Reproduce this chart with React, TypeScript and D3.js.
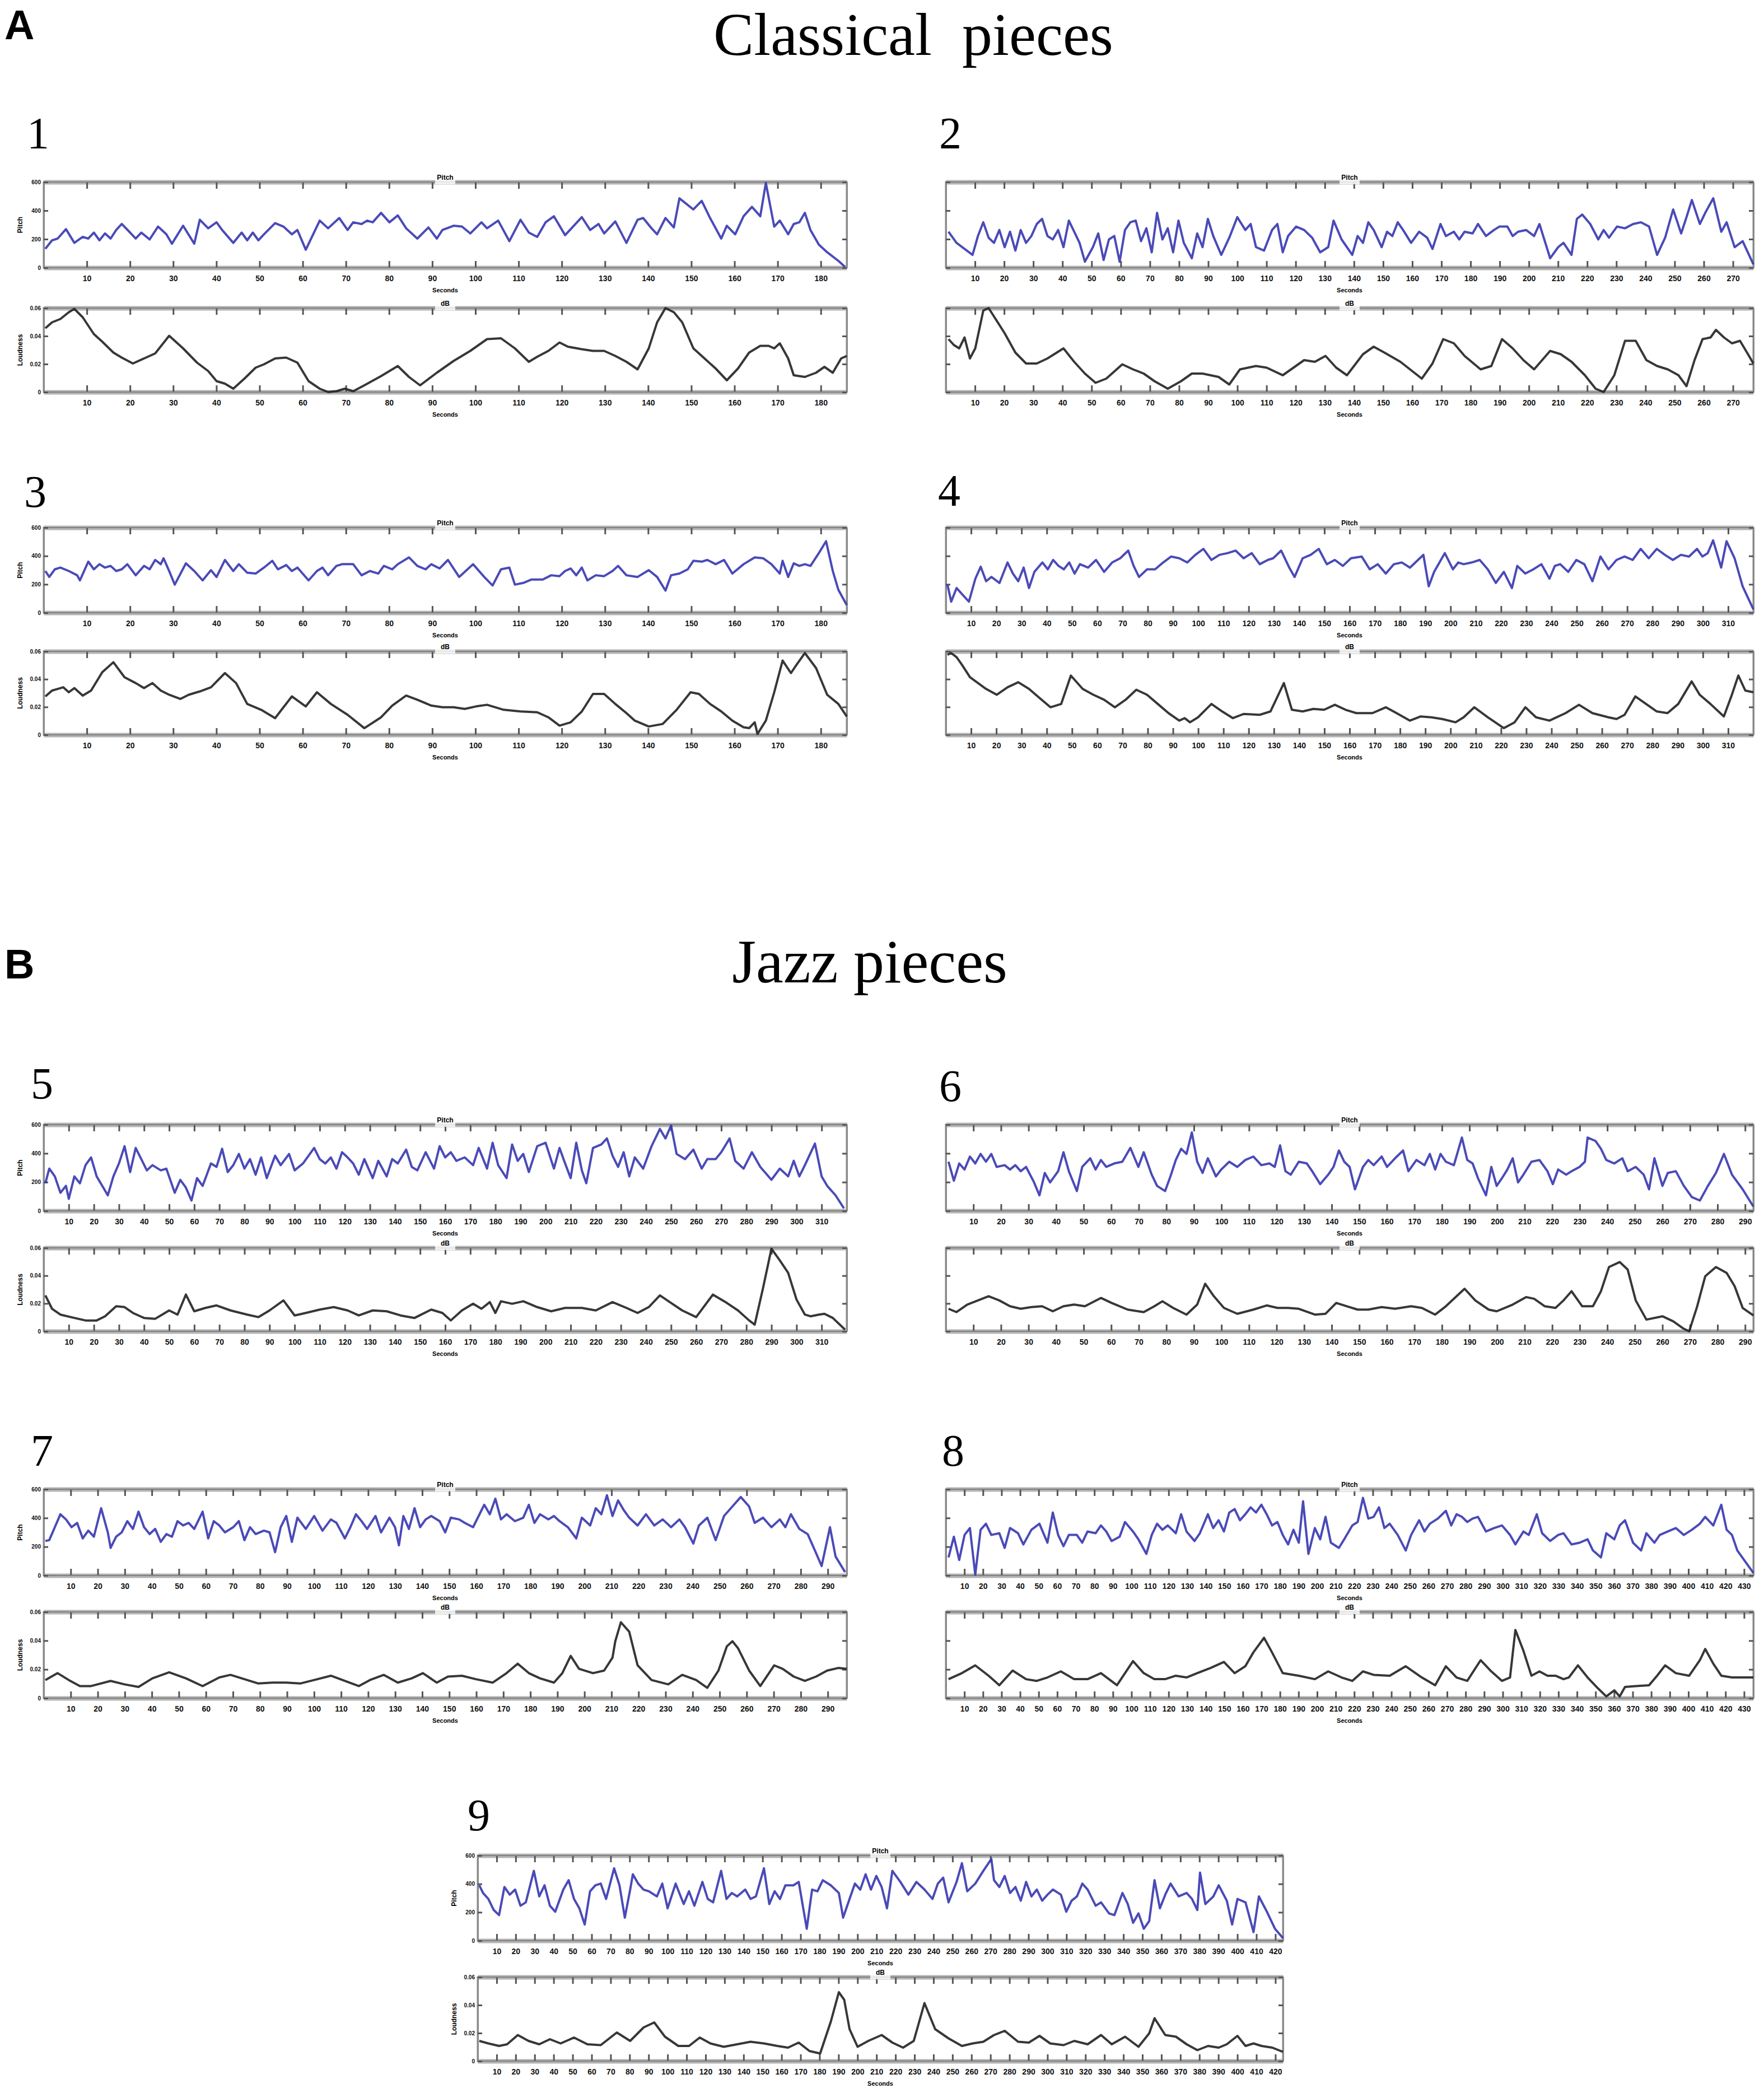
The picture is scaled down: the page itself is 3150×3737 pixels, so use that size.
import React, { useEffect, useRef } from 'react';
import * as d3 from 'd3';

type Pt = [number, number];

// traces: [position along the trace frame, level 0-100 of the panel height]
const p1Pitch: Pt[] = [[78,22],[90,32],[100,34],[115,45],[130,29],[145,36],[155,34],[165,41],[175,32],[185,40],[195,34],[205,44],[215,51],[230,41],[240,34],[250,41],[265,33],[280,48],[295,39],[305,28],[325,49],[345,28],[355,56],[370,46],[385,53],[395,44],[415,29],[430,41],[440,32],[450,41],[460,32],[470,39],[490,52],[505,48],[520,39],[530,44],[545,21],[570,55],[585,46],[605,58],[620,44],[630,53],[645,51],[655,55],[665,53],[680,64],[695,53],[710,61],[725,46],[745,34],[765,47],[780,34],[790,44],[810,49],[825,48],[840,40],[860,53],[870,46],[890,55],[910,31],[930,56],[945,41],[960,36],[975,53],[990,60],[1010,38],[1040,59],[1055,44],[1070,51],[1080,40],[1100,54],[1120,29],[1140,56],[1150,58],[1165,46],[1175,39],[1190,58],[1205,47],[1215,81],[1240,68],[1255,78],[1270,58],[1290,34],[1300,49],[1315,39],[1330,60],[1345,71],[1360,60],[1370,99],[1385,48],[1395,55],[1410,39],[1420,51],[1430,53],[1440,64],[1450,44],[1465,27],[1480,18],[1500,8],[1512,1]];
const p1Loud: Pt[] = [[78,76],[90,83],[105,87],[120,95],[130,99],[145,89],[165,69],[180,60],[200,47],[215,41],[235,34],[255,40],[275,46],[300,67],[325,52],[350,35],[370,25],[385,13],[400,10],[415,4],[435,16],[455,29],[470,33],[490,40],[510,41],[530,35],[550,13],[570,4],[585,0],[600,1],[615,4],[630,1],[650,8],[680,19],[710,31],[730,18],[750,8],[780,23],[810,37],[840,49],[870,63],[895,64],[920,52],[945,36],[960,42],[980,49],[1000,59],[1015,54],[1040,51],[1060,49],[1080,49],[1100,43],[1120,36],[1140,27],[1160,52],[1175,83],[1190,100],[1205,95],[1220,83],[1240,52],[1260,40],[1280,28],[1300,14],[1320,28],[1340,47],[1360,55],[1375,55],[1385,52],[1395,58],[1410,40],[1420,20],[1440,18],[1460,23],[1475,30],[1490,23],[1505,40],[1515,43]];

const p2Pitch: Pt[] = [[35,42],[50,29],[65,22],[80,15],[90,37],[100,53],[110,35],[120,29],[130,44],[140,24],[150,42],[160,20],[170,44],[180,29],[190,37],[200,51],[210,57],[220,37],[230,33],[240,44],[250,24],[260,55],[270,42],[280,29],[290,7],[305,24],[315,40],[325,9],[335,33],[345,37],[355,7],[365,44],[375,53],[385,55],[395,31],[405,46],[415,18],[425,64],[435,33],[445,46],[455,18],[465,55],[475,29],[490,11],[500,40],[510,24],[520,57],[530,37],[545,15],[560,35],[575,59],[590,44],[600,51],[610,24],[625,20],[640,44],[650,51],[660,18],[670,37],[685,48],[700,44],[715,35],[730,18],[745,24],[755,55],[770,33],[790,15],[800,37],[810,29],[820,53],[830,44],[845,24],[855,42],[865,37],[875,53],[885,44],[900,29],[915,42],[930,35],[940,22],[955,51],[965,37],[980,42],[990,33],[1000,42],[1015,40],[1025,51],[1040,37],[1055,44],[1065,48],[1080,48],[1090,37],[1100,42],[1115,44],[1130,37],[1140,51],[1160,11],[1175,24],[1185,29],[1200,15],[1210,57],[1220,62],[1235,51],[1250,33],[1260,44],[1270,35],[1285,48],[1300,46],[1315,51],[1330,53],[1345,48],[1360,15],[1375,35],[1390,68],[1405,40],[1415,59],[1425,79],[1440,51],[1450,64],[1465,81],[1480,42],[1490,53],[1505,24],[1520,31],[1540,4]];
const p2Loud: Pt[] = [[35,63],[45,56],[55,52],[65,65],[75,40],[85,52],[100,97],[110,100],[120,90],[140,70],[160,47],[180,34],[200,34],[220,40],[250,52],[270,36],[290,22],[310,11],[330,16],[360,33],[380,27],[400,22],[420,13],[445,4],[470,13],[490,22],[510,22],[540,18],[560,9],[580,27],[610,31],[630,29],[660,20],[680,29],[700,38],[720,36],[740,43],[760,29],[780,20],[810,45],[830,54],[850,47],[880,36],[920,16],[940,34],[960,63],[980,58],[1000,43],[1030,27],[1050,31],[1070,63],[1090,52],[1110,38],[1130,27],[1160,49],[1180,45],[1200,36],[1225,20],[1245,4],[1260,0],[1280,20],[1300,61],[1320,61],[1340,38],[1360,31],[1380,27],[1400,20],[1415,7],[1430,38],[1445,63],[1460,65],[1470,74],[1485,65],[1500,58],[1515,61],[1530,45],[1540,34]];

const p3Pitch: Pt[] = [[78,49],[85,42],[95,51],[105,53],[120,49],[135,44],[140,38],[155,60],[165,51],[175,57],[185,53],[195,55],[205,49],[215,51],[225,57],[240,44],[255,55],[265,51],[275,62],[285,57],[290,64],[300,49],[310,33],[330,58],[345,49],[360,38],[375,50],[385,42],[400,62],[415,49],[425,57],[440,47],[455,46],[470,53],[485,61],[495,51],[510,56],[520,49],[530,53],[550,38],[565,49],[575,53],[585,44],[600,55],[610,57],[630,57],[645,44],[660,49],[675,46],[685,55],[700,51],[710,57],[730,65],[745,55],[760,51],[770,57],[785,52],[800,62],[820,42],[845,57],[865,42],[880,32],[895,51],[910,53],[920,33],[935,35],[950,39],[970,39],[985,44],[1000,43],[1010,49],[1020,52],[1030,44],[1040,53],[1050,38],[1065,44],[1080,43],[1095,49],[1105,55],[1120,44],[1140,42],[1160,50],[1175,42],[1190,26],[1200,44],[1215,46],[1230,51],[1240,61],[1255,60],[1265,62],[1280,57],[1295,62],[1310,46],[1330,57],[1350,65],[1365,64],[1380,57],[1395,46],[1400,61],[1410,42],[1420,58],[1430,55],[1440,57],[1450,55],[1465,70],[1478,84],[1490,49],[1500,27],[1515,9]];
const p3Loud: Pt[] = [[78,46],[90,53],[100,55],[110,57],[120,51],[130,56],[145,47],[160,53],[180,75],[200,87],[220,69],[240,62],[255,56],[270,62],[285,53],[300,48],[320,43],[335,48],[355,52],[375,57],[400,74],[420,62],[440,37],[465,30],[490,20],[505,33],[520,46],[545,34],[565,51],[590,37],[620,24],[650,8],[680,21],[700,35],[725,47],[745,42],[770,35],[790,33],[810,33],[830,31],[850,34],[870,36],[900,30],[930,28],[960,27],[980,21],[1000,11],[1020,15],[1040,28],[1060,49],[1080,49],[1100,37],[1120,26],[1135,17],[1160,10],[1185,13],[1210,30],[1235,51],[1250,49],[1270,37],[1290,28],[1310,17],[1330,9],[1340,8],[1350,15],[1355,1],[1370,17],[1385,51],[1400,89],[1415,74],[1425,84],[1440,98],[1460,80],[1480,48],[1500,37],[1515,22]];

const p4Pitch: Pt[] = [[38,33],[45,13],[55,29],[65,22],[78,13],[90,40],[100,54],[110,37],[120,42],[135,35],[150,59],[160,46],[170,37],[180,53],[190,29],[200,48],[215,59],[225,51],[235,62],[245,55],[255,51],[265,59],[275,46],[285,57],[300,53],[315,62],[330,48],[345,59],[360,64],[375,73],[385,55],[395,42],[410,51],[425,51],[440,59],[455,66],[470,64],[485,59],[500,68],[515,75],[530,62],[545,68],[560,70],[575,73],[590,64],[605,70],[620,57],[635,62],[645,64],[660,73],[675,53],[685,42],[700,64],[715,68],[730,75],[745,57],[760,62],[775,55],[790,64],[810,66],[825,51],[840,57],[855,46],[870,57],[885,59],[900,53],[915,62],[925,68],[935,31],[945,48],[955,59],[965,70],[980,51],[990,59],[1000,57],[1015,59],[1030,62],[1045,51],[1060,35],[1075,48],[1090,29],[1100,55],[1115,46],[1130,51],[1145,57],[1160,40],[1170,55],[1180,57],[1195,48],[1210,62],[1225,57],[1240,37],[1255,66],[1270,51],[1285,62],[1300,66],[1315,62],[1330,75],[1345,64],[1360,75],[1375,68],[1390,62],[1405,68],[1420,66],[1435,75],[1445,66],[1455,70],[1465,85],[1480,53],[1490,84],[1505,64],[1520,31],[1540,4]];
const p4Loud: Pt[] = [[38,96],[45,98],[55,93],[65,84],[80,69],[95,62],[110,55],[130,48],[150,57],[170,63],[190,55],[210,44],[230,33],[250,37],[268,71],[290,55],[310,48],[330,42],[350,33],[370,42],[390,54],[410,48],[430,37],[450,26],[470,17],[480,20],[490,15],[505,21],[530,37],[550,28],[570,20],[590,25],[620,24],[640,28],[665,62],[680,30],[700,28],[720,31],[740,30],[760,36],[780,30],[800,26],[830,26],[855,33],[875,26],[900,17],[920,22],[940,21],[960,19],[985,15],[1000,21],[1020,33],[1045,21],[1075,8],[1095,15],[1115,33],[1135,21],[1160,17],[1190,26],[1215,36],[1240,26],[1270,21],[1285,19],[1300,24],[1320,46],[1340,37],[1360,28],[1380,26],[1400,37],[1425,64],[1440,48],[1460,37],[1485,22],[1500,48],[1512,71],[1525,53],[1540,51]];

const p5Pitch: Pt[] = [[78,32],[85,49],[95,40],[105,21],[115,29],[120,14],[130,40],[140,32],[150,53],[160,62],[170,40],[180,29],[190,18],[200,40],[210,55],[220,75],[230,45],[240,73],[250,60],[260,47],[270,53],[285,47],[295,49],[310,21],[320,36],[330,27],[340,12],[350,38],[360,29],[375,55],[385,51],[395,72],[405,45],[415,53],[425,66],[435,49],[445,60],[455,42],[465,62],[475,38],[490,64],[500,53],[515,66],[525,47],[540,55],[560,73],[570,60],[580,55],[590,62],[600,49],[610,68],[620,62],[630,55],[640,42],[650,60],[665,38],[675,58],[690,40],[700,60],[710,55],[725,71],[735,51],[745,47],[760,68],[775,49],[785,75],[795,62],[805,68],[815,58],[830,62],[845,53],[855,73],[870,49],[880,79],[890,53],[905,38],[915,77],[925,58],[935,66],[945,45],[960,75],[975,79],[990,49],[1000,73],[1010,55],[1020,38],[1030,79],[1040,47],[1048,32],[1060,73],[1075,77],[1085,84],[1095,64],[1105,51],[1115,68],[1125,40],[1135,62],[1150,49],[1165,75],[1180,95],[1190,84],[1200,99],[1210,66],[1225,60],[1240,71],[1255,49],[1265,60],[1280,60],[1290,68],[1305,84],[1315,58],[1330,49],[1345,68],[1360,51],[1380,36],[1395,49],[1410,40],[1420,58],[1430,40],[1440,53],[1458,78],[1470,40],[1480,29],[1495,18],[1510,3]];
const p5Loud: Pt[] = [[78,43],[90,27],[105,20],[130,16],[150,13],[170,13],[185,18],[205,30],[220,29],[235,22],[255,16],[275,15],[290,21],[300,25],[315,20],[330,44],[345,24],[365,28],[385,31],[410,25],[440,20],[460,17],[480,25],[505,37],[525,19],[545,22],[570,26],[595,29],[620,25],[640,19],[665,25],[690,24],[715,19],[740,16],[770,26],[790,22],[805,13],[825,25],[845,33],[860,27],[875,35],[885,22],[895,36],[915,33],[935,36],[960,29],[985,24],[1010,28],[1040,28],[1065,25],[1095,35],[1120,28],[1140,22],[1160,29],[1180,43],[1200,34],[1220,25],[1245,17],[1275,44],[1300,34],[1320,25],[1340,13],[1350,8],[1365,52],[1380,99],[1395,85],[1410,70],[1425,38],[1440,20],[1450,18],[1465,20],[1475,21],[1490,16],[1512,2]];

const p6Pitch: Pt[] = [[35,57],[45,35],[55,55],[65,48],[75,63],[85,55],[95,66],[105,57],[115,66],[125,51],[140,53],[150,48],[160,53],[170,46],[180,51],[195,33],[205,18],[215,44],[225,33],[240,46],[250,68],[260,46],[275,23],[285,51],[300,61],[310,48],[320,59],[330,51],[345,55],[360,57],[375,73],[390,51],[400,68],[415,42],[425,29],[440,23],[450,40],[460,59],[470,72],[480,66],[490,91],[500,57],[510,44],[520,61],[535,40],[545,48],[560,57],[575,51],[590,59],[605,63],[620,53],[635,55],[645,51],[655,76],[665,46],[675,42],[690,57],[705,55],[715,46],[730,31],[745,42],[755,51],[765,70],[775,57],[785,51],[795,25],[810,51],[820,59],[830,53],[845,63],[855,51],[870,61],[885,70],[895,46],[910,59],[925,53],[935,66],[945,48],[955,66],[965,57],[980,53],[995,85],[1005,59],[1015,55],[1025,38],[1040,18],[1050,51],[1060,29],[1070,38],[1080,48],[1090,61],[1100,33],[1110,42],[1125,57],[1140,59],[1155,46],[1165,31],[1175,48],[1190,42],[1200,46],[1215,51],[1225,57],[1230,85],[1245,81],[1255,72],[1265,59],[1280,55],[1295,61],[1305,46],[1320,51],[1335,42],[1345,25],[1355,61],[1370,29],[1380,44],[1395,46],[1410,29],[1425,16],[1440,12],[1455,29],[1470,44],[1485,66],[1500,42],[1520,25],[1540,5]];
const p6Loud: Pt[] = [[35,27],[50,23],[70,32],[90,37],[110,42],[130,37],[150,30],[170,27],[190,29],[210,30],[230,24],[250,30],[270,32],[290,30],[320,40],[340,34],[370,26],[400,23],[420,30],[435,36],[455,28],[480,20],[500,32],[515,57],[530,43],[550,28],[575,21],[605,26],[630,31],[650,28],[670,28],[690,27],[720,20],[740,21],[760,34],[780,30],[800,26],[820,26],[845,29],[870,27],[900,30],[920,28],[945,20],[965,30],[1000,51],[1020,37],[1045,26],[1060,24],[1090,32],[1115,41],[1130,39],[1150,30],[1170,28],[1185,37],[1200,48],[1220,30],[1240,30],[1255,48],[1270,77],[1290,83],[1305,74],[1320,37],[1340,14],[1370,18],[1390,12],[1410,3],[1420,0],[1435,30],[1450,66],[1470,77],[1490,70],[1505,54],[1520,28],[1540,19]];

const p7Pitch: Pt[] = [[78,40],[85,41],[95,56],[105,71],[115,65],[125,56],[135,61],[145,43],[155,52],[165,45],[178,78],[190,50],[195,32],[205,45],[215,50],[225,63],[235,54],[245,74],[255,56],[265,48],[275,54],[285,39],[295,48],[305,45],[315,63],[325,58],[335,61],[345,54],[360,74],[370,43],[380,63],[390,58],[400,50],[415,56],[425,63],[435,41],[445,56],[455,48],[470,52],[480,50],[490,27],[500,56],[510,69],[520,39],[530,67],[545,54],[560,69],[575,52],[590,65],[600,61],[615,43],[625,56],[635,71],[645,63],[655,54],[670,69],[680,50],[695,67],[705,56],[712,35],[720,69],[730,54],[740,78],[750,56],[760,65],[770,69],[785,63],[795,50],[805,67],[820,65],[830,61],[845,56],[855,69],[865,82],[875,71],[885,89],[895,65],[905,71],[920,63],[935,67],[945,82],[955,61],[965,71],[980,65],[990,69],[1000,63],[1015,56],[1030,43],[1040,67],[1055,58],[1065,78],[1075,71],[1085,93],[1095,69],[1105,87],[1115,76],[1125,67],[1140,58],[1155,71],[1170,58],[1185,65],[1200,56],[1215,65],[1225,56],[1240,37],[1250,58],[1265,67],[1280,41],[1295,69],[1310,80],[1325,91],[1340,80],[1350,61],[1365,67],[1380,56],[1395,65],[1405,56],[1415,71],[1430,54],[1445,48],[1460,26],[1470,11],[1485,56],[1495,22],[1512,4]];
const p7Loud: Pt[] = [[78,21],[100,29],[120,21],[140,14],[160,14],[195,20],[220,16],[245,13],[270,23],[300,30],[330,23],[360,14],[390,24],[410,27],[435,22],[460,17],[485,18],[510,18],[535,17],[560,21],[590,26],[615,20],[640,14],[660,21],[685,27],[710,18],[735,23],[755,29],[780,18],[800,25],[825,26],[850,22],[880,18],[905,29],[925,40],[945,29],[965,23],[990,18],[1005,29],[1020,49],[1035,34],[1060,29],[1080,32],[1095,47],[1100,66],[1110,88],[1125,77],[1140,38],[1165,21],[1195,16],[1220,27],[1245,21],[1265,12],[1285,32],[1300,60],[1310,66],[1320,58],[1340,32],[1360,14],[1385,38],[1400,34],[1420,25],[1440,20],[1460,25],[1480,32],[1500,35],[1515,34]];

const p8Pitch: Pt[] = [[35,21],[45,45],[55,18],[65,47],[75,55],[85,1],[95,53],[105,60],[115,47],[130,49],[140,32],[150,55],[165,49],[175,36],[190,53],[205,60],[220,38],[230,73],[240,47],[250,34],[260,47],[275,47],[285,38],[295,51],[310,49],[320,58],[330,51],[340,40],[355,45],[365,62],[380,51],[390,42],[405,25],[415,47],[425,60],[435,53],[445,58],[460,49],[470,71],[480,51],[495,40],[505,49],[520,71],[530,55],[540,64],[550,51],[560,73],[570,77],[580,64],[590,71],[600,79],[610,73],[620,82],[630,71],[640,58],[650,62],[660,47],[670,36],[680,53],[690,38],[698,86],[708,25],[720,55],[730,42],[740,68],[750,38],[765,32],[775,42],[790,58],[800,62],[810,90],[820,66],[830,68],[840,79],[850,55],[860,60],[875,47],[890,29],[900,47],[915,64],[925,51],[935,60],[950,66],[965,75],[975,58],[985,71],[995,68],[1005,62],[1015,66],[1025,68],[1040,51],[1055,55],[1070,58],[1085,47],[1095,36],[1110,51],[1120,47],[1135,71],[1145,49],[1160,40],[1175,47],[1185,49],[1200,36],[1215,38],[1230,42],[1240,29],[1255,21],[1265,49],[1280,42],[1290,58],[1300,64],[1315,38],[1330,29],[1340,49],[1355,38],[1365,47],[1380,51],[1395,55],[1410,47],[1425,53],[1440,60],[1450,68],[1465,58],[1480,82],[1490,53],[1500,47],[1510,29],[1525,16],[1540,3]];
const p8Loud: Pt[] = [[35,22],[60,29],[85,38],[110,26],[130,15],[155,32],[180,22],[200,20],[220,24],[245,31],[270,22],[295,22],[320,29],[350,15],[380,43],[400,29],[420,22],[440,22],[460,26],[480,24],[500,29],[525,35],[550,42],[570,29],[590,37],[605,53],[625,70],[640,53],[660,29],[690,26],[720,22],[745,31],[770,24],[790,20],[810,31],[830,27],[860,26],[890,37],[920,24],[945,15],[965,37],[985,24],[1005,20],[1030,44],[1050,31],[1070,20],[1085,24],[1095,79],[1110,55],[1125,26],[1140,31],[1155,26],[1170,26],[1185,22],[1195,24],[1212,38],[1230,24],[1250,11],[1265,2],[1280,9],[1290,2],[1300,13],[1320,14],[1345,15],[1360,26],[1375,38],[1395,29],[1420,26],[1440,44],[1450,57],[1465,40],[1480,26],[1500,24],[1520,24],[1540,24]];

const p9Pitch: Pt[] = [[38,65],[45,56],[55,49],[65,36],[75,30],[85,63],[95,54],[105,60],[115,41],[125,45],[140,82],[150,52],[160,65],[170,41],[180,34],[195,60],[205,71],[215,49],[225,38],[235,19],[245,58],[255,65],[265,67],[275,49],[290,85],[300,65],[310,27],[320,60],[325,78],[335,67],[345,60],[355,58],[370,52],[380,67],[390,38],[405,67],[420,43],[430,58],[440,41],[455,69],[465,49],[475,45],[490,82],[500,49],[510,56],[520,52],[535,60],[545,49],[555,52],[570,85],[580,43],[590,58],[600,49],[610,65],[625,65],[635,69],[650,14],[660,60],[670,58],[680,71],[695,65],[710,56],[718,27],[730,49],[740,67],[750,60],[760,78],[770,60],[780,76],[790,63],[800,38],[810,82],[825,69],[840,54],[855,69],[870,60],[885,49],[895,67],[905,74],[915,45],[930,69],[940,91],[950,58],[965,67],[980,82],[995,96],[1000,71],[1010,63],[1020,76],[1030,56],[1040,63],[1050,47],[1060,69],[1070,52],[1080,60],[1090,47],[1100,54],[1110,60],[1125,54],[1135,34],[1145,47],[1155,52],[1165,67],[1175,60],[1190,41],[1200,45],[1215,32],[1225,30],[1240,56],[1250,43],[1260,21],[1270,32],[1280,14],[1290,23],[1300,71],[1310,38],[1320,54],[1330,67],[1345,52],[1360,56],[1370,49],[1380,36],[1385,80],[1395,43],[1410,52],[1420,65],[1435,47],[1445,19],[1455,49],[1470,45],[1485,10],[1495,52],[1510,34],[1525,14],[1540,3]];
const p9Loud: Pt[] = [[38,24],[55,21],[75,18],[90,20],[110,31],[130,24],[150,20],[170,26],[190,21],[215,28],[240,20],[265,19],[295,34],[320,24],[345,40],[365,46],[385,29],[410,18],[430,18],[450,28],[470,21],[495,17],[520,20],[545,23],[570,21],[595,18],[615,16],[635,22],[655,12],[675,9],[695,47],[710,82],[720,73],[730,38],[745,17],[765,24],[790,31],[810,22],[830,16],[850,24],[870,69],[890,38],[915,27],[940,18],[960,21],[980,23],[1000,31],[1020,36],[1045,23],[1065,22],[1085,30],[1105,21],[1130,19],[1150,24],[1175,20],[1200,31],[1220,20],[1245,29],[1270,17],[1290,33],[1300,51],[1320,31],[1340,29],[1360,20],[1380,13],[1400,18],[1420,16],[1435,20],[1455,30],[1470,18],[1485,21],[1500,18],[1520,16],[1540,11]];

// piece lengths in seconds (tick every 10 s)
const durations = [186, 277, 186, 320, 320, 293, 297, 435, 424];
const pieceLabels = ['1', '2', '3', '4', '5', '6', '7', '8', '9'];
const pitchTicks = ['0', '200', '400', '600'];
const loudTicks = ['0', '0.02', '0.04', '0.06'];

const W = 3150;
const H = 3737;
const SERIF = '"Liberation Serif", "DejaVu Serif", serif';
const SANS = '"Liberation Sans", Arial, sans-serif';
const BLUE = '#3b3bb2';
const INK = '#262626';

const leftCol = { x0: 78, x1: 1512, span: [75, 1515] };
const rightCol = { x0: 1689, x1: 3131, span: [30, 1540] };
const midCol = { x0: 853, x1: 2291, span: [35, 1540] };

const rows = [
  { top: [325, 478], bottom: [550, 700] },
  { top: [942, 1094], bottom: [1163, 1312] },
  { top: [2008, 2162], bottom: [2228, 2377] },
  { top: [2659, 2813], bottom: [2878, 3032] },
  { top: [3313, 3465], bottom: [3530, 3680] },
];

const layout = [
  { col: leftCol, row: 0, label: [48, 265], yText: true },
  { col: rightCol, row: 0, label: [1677, 265], yText: false },
  { col: leftCol, row: 1, label: [43, 905], yText: true },
  { col: { ...rightCol, span: [35, 1540] }, row: 1, label: [1675, 903], yText: false },
  { col: leftCol, row: 2, label: [55, 1962], yText: true },
  { col: rightCol, row: 2, label: [1677, 1966], yText: false },
  { col: leftCol, row: 3, label: [55, 2617], yText: true },
  { col: rightCol, row: 3, label: [1682, 2617], yText: false },
  { col: midCol, row: 4, label: [835, 3268], yText: true },
];

const series: [Pt[], Pt[]][] = [
  [p1Pitch, p1Loud], [p2Pitch, p2Loud], [p3Pitch, p3Loud], [p4Pitch, p4Loud], [p5Pitch, p5Loud],
  [p6Pitch, p6Loud], [p7Pitch, p7Loud], [p8Pitch, p8Loud], [p9Pitch, p9Loud],
];

function drawPlot(
  root: d3.Selection<SVGGElement, unknown, null, undefined>,
  x0: number, x1: number, y0: number, y1: number,
  span: number[], duration: number, pts: Pt[], color: string,
  tickText: string[], yText: boolean, title: string, yTitle: string,
) {
  const g = root.append('g');
  const x = d3.scaleLinear().domain([0, duration]).range([x0, x1]);
  const toSec = d3.scaleLinear().domain(span).range([0, duration]);
  const y = d3.scaleLinear().domain([0, 100]).range([y1, y0]);
  const xt = d3.range(10, duration - 2, 10);
  const yt = [0, 100 / 3, 200 / 3, 100];

  g.append('rect').attr('x', x0).attr('y', y0).attr('width', x1 - x0).attr('height', y1 - y0)
    .attr('fill', 'none').attr('stroke', '#8a8a8a').attr('stroke-width', 3);

  const bottom = g.append('g').attr('transform', `translate(0,${y1})`)
    .call(d3.axisBottom(x).tickValues(xt).tickSizeInner(-12).tickSizeOuter(0).tickPadding(14).tickFormat(d3.format('d')));
  const top = g.append('g').attr('transform', `translate(0,${y0})`)
    .call(d3.axisTop(x).tickValues(xt).tickSizeInner(-12).tickSizeOuter(0).tickFormat(() => ''));
  const left = g.append('g').attr('transform', `translate(${x0},0)`)
    .call(d3.axisLeft(y).tickValues(yt).tickSizeInner(-8).tickSizeOuter(0).tickPadding(5)
      .tickFormat((_, i) => (yText ? tickText[i] : '')));
  const right = g.append('g').attr('transform', `translate(${x1},0)`)
    .call(d3.axisRight(y).tickValues(yt).tickSizeInner(-8).tickSizeOuter(0).tickFormat(() => ''));

  [top, bottom].forEach((a) => {
    a.select('.domain').attr('stroke', '#b4b4b4').attr('stroke-width', 8);
    a.append('line').attr('x1', x0).attr('x2', x1).attr('stroke', '#808080').attr('stroke-width', 2);
  });
  [left, right].forEach((a) => a.select('.domain').attr('stroke', '#8a8a8a').attr('stroke-width', 3));
  [top, bottom, left, right].forEach((a) => {
    a.attr('font-family', SANS).attr('font-size', 14);
    a.selectAll('.tick line').attr('stroke', '#555').attr('stroke-width', 3);
    a.selectAll('.tick text').attr('fill', '#111').attr('font-weight', 'bold');
  });
  left.attr('font-size', 10);

  // title above the frame breaks the top border
  const cx = (x0 + x1) / 2;
  g.append('rect').attr('x', cx - 18).attr('y', y0 - 6).attr('width', 36).attr('height', 10).attr('fill', '#fff').attr('opacity', 0.8);
  g.append('text').attr('x', cx).attr('y', y0 - 4).attr('text-anchor', 'middle')
    .attr('font-family', SANS).attr('font-weight', 'bold').attr('font-size', 12).text(title);
  g.append('text').attr('x', cx).attr('y', y1 + 44).attr('text-anchor', 'middle')
    .attr('font-family', SANS).attr('font-weight', 'bold').attr('font-size', 11).text('Seconds');
  if (yText) {
    g.append('text').attr('transform', `translate(${x0 - 38},${(y0 + y1) / 2}) rotate(-90)`)
      .attr('text-anchor', 'middle').attr('font-family', SANS).attr('font-weight', 'bold').attr('font-size', 12).text(yTitle);
  }

  const line = d3.line<Pt>().x((d) => x(toSec(d[0]))).y((d) => y(d[1])).curve(d3.curveLinear);
  g.append('path').datum(pts).attr('d', line).attr('fill', 'none').attr('stroke', color)
    .attr('stroke-width', 4).attr('stroke-linejoin', 'round').attr('stroke-opacity', 0.92);
}

const App: React.FC = () => {
  const svgRef = useRef<SVGSVGElement>(null);

  useEffect(() => {
    const svg = d3.select(svgRef.current);
    svg.selectAll('*').remove();
    svg.append('rect').attr('width', W).attr('height', H).attr('fill', '#fff');
    const root = svg.append('g') as d3.Selection<SVGGElement, unknown, null, undefined>;

    const head = (t: string, x: number, yb: number, size: number, font: string, weight: string, anchor: string) =>
      root.append('text').attr('x', x).attr('y', yb).attr('font-family', font).attr('font-size', size)
        .attr('font-weight', weight).attr('text-anchor', anchor).style('white-space', 'pre').text(t);

    head('A', 8, 70, 74, SANS, 'bold', 'start');
    head('Classical  pieces', 1631, 98, 108, SERIF, 'normal', 'middle');
    head('B', 8, 1747, 74, SANS, 'bold', 'start');
    head('Jazz pieces', 1553, 1754, 110, SERIF, 'normal', 'middle');

    layout.forEach((p, i) => {
      const r = rows[p.row];
      head(pieceLabels[i], p.label[0], p.label[1], 80, SERIF, 'normal', 'start');
      const [pitch, loud] = series[i];
      drawPlot(root, p.col.x0, p.col.x1, r.top[0], r.top[1], p.col.span, durations[i], pitch, BLUE, pitchTicks, p.yText, 'Pitch', 'Pitch');
      drawPlot(root, p.col.x0, p.col.x1, r.bottom[0], r.bottom[1], p.col.span, durations[i], loud, INK, loudTicks, p.yText, 'dB', 'Loudness');
    });
  }, []);

  return (
    <div style={{ position: 'absolute', left: 0, top: 0 }}>
      <svg ref={svgRef} width={W} height={H} />
    </div>
  );
};

export default App;
